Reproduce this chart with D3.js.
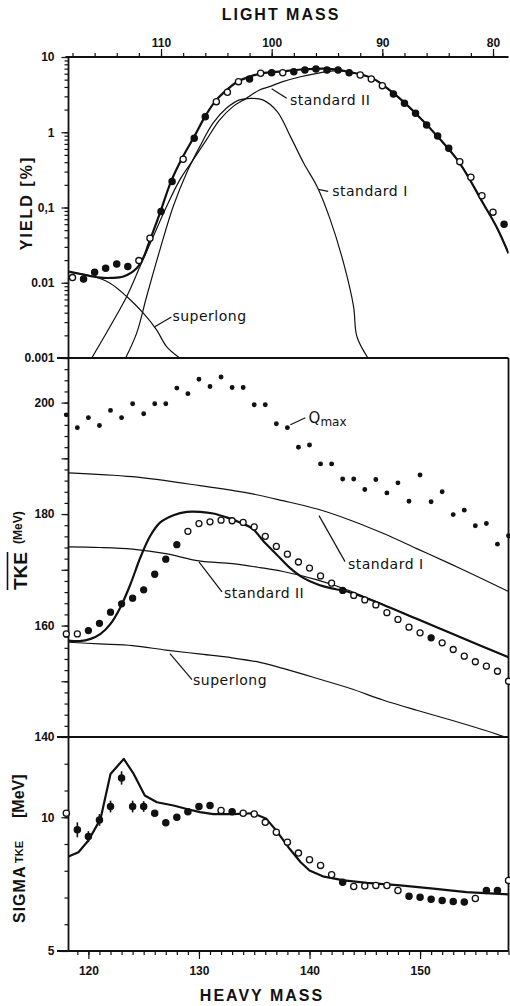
<!DOCTYPE html>
<html>
<head>
<meta charset="utf-8">
<script src="https://cdn.jsdelivr.net/npm/d3@7/dist/d3.min.js"></script>
<style>
  body { margin: 0; background: #fff; }
</style>
</head>
<body>
<script>
// values

// top panel: yield points, plotted against light fragment mass
var lightMass = [118, 117, 116, 115, 114, 113, 112, 111, 110, 109, 108, 107, 106, 105, 104, 103, 102, 101, 100, 99,
                 98, 97, 96, 95, 94, 93, 92, 91, 90, 89, 88, 87, 86, 85, 84, 83, 82, 81, 80, 79];
var yieldValues = [0.0117, 0.0112, 0.0138, 0.0156, 0.0177, 0.0164, 0.0197, 0.0391, 0.0883, 0.221, 0.438, 0.832, 1.61, 2.55, 3.40, 4.70, 5.11, 6.07, 6.19, 6.19,
                   6.38, 6.71, 6.93, 6.71, 6.71, 6.19, 5.77, 5.11, 4.16, 3.23, 2.43, 1.79, 1.25, 0.893, 0.612, 0.407, 0.252, 0.143, 0.0867, 0.060];
var yieldFilled = [0, 1, 1, 1, 1, 1, 0, 0, 1, 1, 0, 1, 1, 0, 0, 0, 1, 0, 1, 0,
                   1, 1, 1, 1, 1, 1, 0, 0, 0, 1, 1, 1, 1, 1, 1, 0, 0, 0, 0, 1];

// model curves [light mass, yield %]
var yieldTotal = [[118.3, 0.0141], [117, 0.0128], [115.5, 0.0117], [114.5, 0.0116], [113.4, 0.0121], [112.2, 0.0156], [111.6, 0.0215],
                  [111.1, 0.0336], [110.1, 0.084], [109.1, 0.221], [108.1, 0.452], [107, 0.875], [106, 1.64], [105, 2.69], [104, 3.72],
                  [103, 4.80], [102, 5.47], [100.9, 6.07], [99, 6.46], [97, 6.87], [95, 7.0], [93, 6.32], [90.9, 5.21], [89, 3.30],
                  [87, 1.79], [85, 0.875], [83, 0.387], [80.9, 0.114], [79.7, 0.0558], [78.6, 0.0247]];
var yieldStandardI = [[113.2, 0.001], [112.2, 0.00214], [111.3, 0.00656], [110.1, 0.0274], [108.9, 0.103], [107.7, 0.286], [106.5, 0.644],
                      [105.3, 1.32], [104.1, 2.08], [102.9, 2.69], [101.9, 2.82], [100.8, 2.69], [99.5, 1.88], [98.3, 0.875], [97.1, 0.387],
                      [95.9, 0.190], [94.7, 0.0684], [93.5, 0.0182], [92.6, 0.00483], [92.3, 0.00193], [91.3, 0.001]];
var yieldStandardII = [[116.26, 0.001], [114.6, 0.00262], [113.1, 0.00656], [111.9, 0.0164], [110.7, 0.0411], [109.5, 0.103], [108.3, 0.233],
                       [107.1, 0.429], [105.9, 0.791], [104.7, 1.46], [103.5, 2.19], [102.3, 2.82], [101.1, 3.65], [100.2, 4.04], [99, 4.70],
                       [97.4, 5.47], [95.9, 6.07], [94.4, 6.55], [93, 6.32], [90.9, 5.21], [89, 3.30], [87, 1.79], [85, 0.875], [83, 0.387],
                       [80.9, 0.114], [79.7, 0.0558], [78.6, 0.0247]];
var yieldSuperlong = [[118.3, 0.0137], [116.1, 0.0121], [114.6, 0.00986], [113.1, 0.00656], [111.6, 0.00394], [110.4, 0.00237],
                      [109.5, 0.00142], [108.3, 0.001]];

// middle and bottom panels: heavy fragment mass
var heavyMass = [118, 119, 120, 121, 122, 123, 124, 125, 126, 127, 128, 129, 130, 131, 132, 133, 134, 135, 136, 137, 138,
                 139, 140, 141, 142, 143, 144, 145, 146, 147, 148, 149, 150, 151, 152, 153, 154, 155, 156, 157, 158];
var tkeValues = [158.5, 158.5, 159.1, 160.4, 162.4, 163.9, 164.9, 166.4, 169.2, 171.9, 174.5, 176.9, 178.3, 178.6, 178.9, 178.8, 178.5, 177.7, 176.0, 174.2, 172.8,
                 171.4, 170.3, 168.9, 167.6, 166.3, 165.4, 164.6, 163.7, 162.3, 161.1, 159.7, 158.7, 157.8, 156.9, 155.7, 154.5, 153.5, 152.7, 151.8, 150.0];
var tkeFilled = [0, 0, 1, 1, 1, 1, 1, 1, 1, 1, 1, 0, 0, 0, 0, 0, 0, 0, 0, 0, 0,
                 0, 0, 0, 0, 1, 0, 0, 0, 0, 0, 0, 0, 1, 0, 0, 0, 0, 0, 0, 0];
var qmaxValues = [197.8, 195.5, 197.3, 195.9, 198.6, 197.3, 199.8, 198.0, 199.8, 199.8, 202.6, 201.6, 204.2, 202.9, 204.6, 202.7, 202.7, 199.6, 199.6, 196.2, 195.5,
                  192.0, 192.4, 189.0, 189.0, 186.3, 186.3, 184.4, 186.2, 183.8, 185.6, 182.3, 187.0, 182.2, 184.0, 179.9, 180.7, 177.9, 178.3, 174.6, 176.1];

// model curves [heavy mass, MeV]
var tkeTotal = [[118.2, 157.3], [119.2, 157.2], [120.2, 157.6], [121.1, 158.5], [122, 160.3], [122.9, 163.3], [123.8, 167.4], [124.7, 172.2],
                [125.6, 176.1], [126.5, 178.5], [127.7, 179.8], [128.9, 180.4], [130.1, 180.4], [131.3, 180.1], [132.5, 179.4], [133.7, 178.5],
                [134.9, 177.3], [135.8, 175.2], [137, 172.8], [138.2, 170.4], [139.4, 168.6], [140.7, 167.4], [141.9, 166.7], [143.4, 166.1],
                [146.7, 163.7], [149.7, 161.2], [152.7, 158.7], [155.7, 156.2], [158, 154.3]];
var tkeStandardI = [[118.2, 187.4], [124, 186.7], [130.1, 185.1], [134.6, 183.7], [137.6, 182.4], [140.7, 180.9], [143.7, 178.9],
                    [146.7, 176.5], [149.7, 173.8], [152.7, 171.1], [155.7, 168.3], [158, 166.1]];
var tkeStandardII = [[118.2, 174.1], [121, 174.0], [124, 173.7], [127, 172.9], [130, 171.6], [133, 171.1], [135.5, 170.4], [137.6, 169.7],
                     [140.7, 168.2], [143.7, 166.2], [146.7, 163.7], [149.7, 161.2], [152.7, 158.7], [155.7, 156.2], [158, 154.3]];
var tkeSuperlong = [[118.2, 157.0], [121, 156.7], [124, 156.4], [127, 155.6], [130, 154.9], [133, 154.2], [135.5, 153.4], [137.6, 152.3],
                    [140.7, 150.5], [143.7, 148.7], [146.7, 146.6], [149.7, 144.8], [152.7, 143.1], [155.7, 141.3], [158, 139.8]];

// bottom panel: sigma TKE
var sigmaValues = [10.15, 9.53, 9.28, 9.90, 10.40, 11.47, 10.40, 10.40, 10.15, 9.79, 10.00, 10.21, 10.40, 10.44, 10.25, 10.21, 10.15, 10.12, 9.81, 9.44, 9.07,
                   8.66, 8.41, 8.20, 7.85, 7.57, 7.41, 7.43, 7.45, 7.45, 7.26, 7.05, 7.01, 6.93, 6.89, 6.85, 6.83, 6.96, 7.26, 7.26, 7.64];
var sigmaFilled = [0, 1, 1, 1, 1, 1, 1, 1, 1, 1, 1, 1, 1, 1, 0, 1, 0, 0, 0, 0, 0,
                   0, 0, 0, 0, 1, 0, 0, 0, 0, 0, 1, 1, 1, 1, 1, 1, 0, 1, 1, 0];
var sigmaErr = [0, 0.28, 0.2, 0.22, 0.22, 0.25, 0.22, 0.2, 0, 0, 0, 0, 0, 0, 0, 0, 0, 0, 0, 0, 0,
                0, 0, 0, 0, 0, 0, 0, 0, 0, 0, 0, 0, 0, 0, 0, 0, 0, 0, 0, 0];
var sigmaCurve = [[118.2, 8.53], [119.1, 8.69], [120, 9.13], [121.1, 9.94], [122, 11.62], [123.2, 12.18], [124.1, 11.62], [125.1, 10.81],
                  [126.2, 10.56], [127.7, 10.44], [128.9, 10.31], [130.1, 10.19], [131.3, 10.12], [133.1, 10.12], [134.9, 10.15], [136.1, 9.94],
                  [137, 9.50], [138.2, 8.82], [139.2, 8.32], [140, 8.01], [141.2, 7.79], [143.1, 7.64], [145.2, 7.55], [148.2, 7.45],
                  [151.2, 7.33], [154.2, 7.20], [158, 7.12]];

// tick labels
var lightTicks = [110, 100, 90, 80];
var heavyTicks = [120, 130, 140, 150];
var yieldTicks = [10, 1, 0.1, 0.01, 0.001];
var yieldTickLabels = ['10', '1', '0,1', '0.01', '0.001'];
var tkeTicks = [140, 160, 180, 200];
var sigmaTicks = [5, 10];

// layout
var width = 510, height = 1006;
var left = 68.5, right = 508.5;
var topY = 57, midY = 358, lowY = 737, baseY = 951;
var ink = '#111';
var tickFont = '"Liberation Sans", Arial, sans-serif';
var noteFont = '"DejaVu Sans", sans-serif';

var svg = d3.select('body')
    .append('svg')
    .attr('width', width)
    .attr('height', height)
    .style('background', '#fff');

var xLight = d3.scaleLinear().domain([118.36, 78.6]).range([left, right]);
var xHeavy = d3.scaleLinear().domain([118.2, 158]).range([left, right]);
var yYield = d3.scaleLog().domain([0.001, 10]).range([midY, topY]);
var yTke = d3.scaleLinear().domain([140, 208]).range([lowY, midY]);
var ySigma = d3.scaleLinear().domain([5, 13]).range([baseY, lowY]);

//clip paths so the curves stop at the panel borders
function addClip(id, y0, y1) {
    svg.append('clipPath').attr('id', id)
        .append('rect')
        .attr('x', left).attr('y', y0)
        .attr('width', right - left).attr('height', y1 - y0);
}
addClip('clipTop', topY, midY);
addClip('clipMid', midY, lowY);
addClip('clipLow', lowY, baseY);

function axisStyle(g) {
    g.select('.domain').remove();
    g.selectAll('.tick line').attr('stroke', ink).attr('stroke-width', 1.2);
    g.selectAll('.tick text')
        .attr('fill', ink)
        .style('font-family', tickFont)
        .style('font-size', '12px')
        .style('font-weight', 'bold');
}

//light mass axis on top
svg.append('g').attr('transform', 'translate(0,' + topY + ')')
    .call(d3.axisTop(xLight).ticks(20).tickSize(4).tickFormat(''))
    .call(axisStyle);
svg.append('g').attr('transform', 'translate(0,' + topY + ')')
    .call(d3.axisTop(xLight).tickValues(lightTicks).tickSize(8).tickPadding(2))
    .call(axisStyle);

//yield axis (log)
svg.append('g').attr('transform', 'translate(' + left + ',0)')
    .call(d3.axisLeft(yYield).tickValues(yYield.ticks()).tickSize(4).tickFormat(''))
    .call(axisStyle);
svg.append('g').attr('transform', 'translate(' + left + ',0)')
    .call(d3.axisLeft(yYield).tickValues(yieldTicks).tickSize(7).tickPadding(7)
        .tickFormat(function (d, i) { return yieldTickLabels[i]; }))
    .call(axisStyle);

//TKE axis
svg.append('g').attr('transform', 'translate(' + left + ',0)')
    .call(d3.axisLeft(yTke).tickValues(d3.range(142, 208, 2)).tickSize(4).tickFormat(''))
    .call(axisStyle);
svg.append('g').attr('transform', 'translate(' + left + ',0)')
    .call(d3.axisLeft(yTke).tickValues(d3.range(140, 201, 10)).tickSize(7).tickPadding(7)
        .tickFormat(function (d) { return tkeTicks.indexOf(d) >= 0 ? d : ''; }))
    .call(axisStyle);

//sigma axis
svg.append('g').attr('transform', 'translate(' + left + ',0)')
    .call(d3.axisLeft(ySigma).tickValues(d3.range(6, 13, 1)).tickSize(4).tickFormat(''))
    .call(axisStyle);
svg.append('g').attr('transform', 'translate(' + left + ',0)')
    .call(d3.axisLeft(ySigma).tickValues(sigmaTicks).tickSize(7).tickPadding(7))
    .call(axisStyle);

//heavy mass axis at the bottom
svg.append('g').attr('transform', 'translate(0,' + baseY + ')')
    .call(d3.axisBottom(xHeavy).tickValues(d3.range(119, 159, 1)).tickSize(4).tickFormat(''))
    .call(axisStyle);
svg.append('g').attr('transform', 'translate(0,' + baseY + ')')
    .call(d3.axisBottom(xHeavy).tickValues(heavyTicks).tickSize(8).tickPadding(7))
    .call(axisStyle);

//frame: left axis, panel separators, right border
var frame = svg.append('g').attr('stroke', ink).attr('stroke-width', 1.8);
frame.append('line').attr('x1', left).attr('x2', left).attr('y1', topY).attr('y2', baseY);
frame.append('line').attr('x1', left - 3).attr('x2', right).attr('y1', topY).attr('y2', topY);
[midY, lowY, baseY].forEach(function (y) {
    frame.append('line').attr('x1', 57).attr('x2', right).attr('y1', y).attr('y2', y);
});
frame.append('line').attr('x1', right).attr('x2', right).attr('y1', midY).attr('y2', baseY);

//curves
var lineYield = d3.line()
    .x(function (d) { return xLight(d[0]); })
    .y(function (d) { return yYield(d[1]); })
    .curve(d3.curveCatmullRom.alpha(0.5));
var lineTke = d3.line()
    .x(function (d) { return xHeavy(d[0]); })
    .y(function (d) { return yTke(d[1]); })
    .curve(d3.curveCatmullRom.alpha(0.5));
var lineSigma = d3.line()
    .x(function (d) { return xHeavy(d[0]); })
    .y(function (d) { return ySigma(d[1]); })
    .curve(d3.curveLinear);

function drawCurve(clip, gen, data, w) {
    svg.append('path')
        .attr('clip-path', 'url(#' + clip + ')')
        .attr('d', gen(data))
        .style('fill', 'none')
        .style('stroke', ink)
        .style('stroke-width', w)
        .style('stroke-linejoin', 'round');
}
drawCurve('clipTop', lineYield, yieldStandardI, 1.2);
drawCurve('clipTop', lineYield, yieldStandardII, 1.2);
drawCurve('clipTop', lineYield, yieldSuperlong, 1.2);
drawCurve('clipTop', lineYield, yieldTotal, 2.2);
drawCurve('clipMid', lineTke, tkeStandardI, 1.2);
drawCurve('clipMid', lineTke, tkeStandardII, 1.2);
drawCurve('clipMid', lineTke, tkeSuperlong, 1.2);
drawCurve('clipMid', lineTke, tkeTotal, 2.2);
drawCurve('clipLow', lineSigma, sigmaCurve, 2.2);

//data points
function drawDots(xs, ys, filled, xScale, yScale, r) {
    svg.append('g').selectAll('circle')
        .data(xs)
        .enter().append('circle')
        .attr('cx', function (d) { return xScale(d); })
        .attr('cy', function (d, i) { return yScale(ys[i]); })
        .attr('r', r)
        .style('fill', function (d, i) { return filled[i] ? ink : '#fff'; })
        .style('stroke', ink)
        .style('stroke-width', 1.3);
}

//error bars for sigma
svg.append('g').selectAll('line')
    .data(heavyMass.filter(function (d, i) { return sigmaErr[i] > 0; }))
    .enter().append('line')
    .attr('x1', function (d) { return xHeavy(d); })
    .attr('x2', function (d) { return xHeavy(d); })
    .attr('y1', function (d) { var i = heavyMass.indexOf(d); return ySigma(sigmaValues[i] + sigmaErr[i]); })
    .attr('y2', function (d) { var i = heavyMass.indexOf(d); return ySigma(sigmaValues[i] - sigmaErr[i]); })
    .style('stroke', ink)
    .style('stroke-width', 1.6);

drawDots(lightMass, yieldValues, yieldFilled, xLight, yYield, 3.1);
drawDots(heavyMass, tkeValues, tkeFilled, xHeavy, yTke, 3.0);
drawDots(heavyMass, qmaxValues, heavyMass.map(function () { return 1; }), xHeavy, yTke, 1.8);
drawDots(heavyMass, sigmaValues, sigmaFilled, xHeavy, ySigma, 3.1);

//point on a curve, in pixels, for label leaders
function curvePoint(curve, xv, xScale, yScale) {
    for (var i = 1; i < curve.length; i++) {
        var a = curve[i - 1], b = curve[i];
        if ((xv - a[0]) * (xv - b[0]) <= 0) {
            var t = (xv - a[0]) / (b[0] - a[0]);
            var ya = yScale(a[1]), yb = yScale(b[1]);
            return [xScale(xv), ya + t * (yb - ya)];
        }
    }
    return [xScale(xv), yScale(curve[curve.length - 1][1])];
}

function annotate(p, leadFrom, leadTo, textAt, label) {
    svg.append('line')
        .attr('x1', p[0] + leadFrom[0]).attr('y1', p[1] + leadFrom[1])
        .attr('x2', p[0] + leadTo[0]).attr('y2', p[1] + leadTo[1])
        .style('stroke', ink).style('stroke-width', 1.2);
    svg.append('text')
        .attr('x', p[0] + textAt[0]).attr('y', p[1] + textAt[1])
        .style('font-family', noteFont)
        .style('font-size', '14px')
        .style('letter-spacing', '0.5px')
        .style('fill', ink)
        .text(label);
}

annotate(curvePoint(yieldStandardII, 100, xLight, yYield), [0, 3], [15, 12.5], [18.3, 19.2], 'standard II');
annotate(curvePoint(yieldStandardI, 95.8, xLight, yYield), [0, 0], [10, 2], [14, 7], 'standard I');
annotate(curvePoint(yieldSuperlong, 110.6, xLight, yYield), [0, 0], [17, -10], [18, -6], 'superlong');
annotate(curvePoint(tkeStandardI, 140.86, xHeavy, yTke), [0, 6], [26, 52], [29, 59], 'standard I');
annotate(curvePoint(tkeStandardII, 130, xHeavy, yTke), [0, 1], [23, 31], [25, 37], 'standard II');
annotate(curvePoint(tkeSuperlong, 127.38, xHeavy, yTke), [0, 3], [22, 29], [23, 34], 'superlong');

//Q max label next to the dotted series
var qi = heavyMass.indexOf(138);
var qx = xHeavy(138), qy = yTke(qmaxValues[qi]);
svg.append('line')
    .attr('x1', qx + 3).attr('y1', qy - 3)
    .attr('x2', qx + 18).attr('y2', qy - 10)
    .style('stroke', ink).style('stroke-width', 1.2);
svg.append('text')
    .attr('x', qx + 21).attr('y', qy - 5)
    .style('font-family', noteFont).style('font-size', '15px').style('fill', ink)
    .text('Q');
svg.append('text')
    .attr('x', qx + 33).attr('y', qy - 2)
    .style('font-family', noteFont).style('font-size', '12px').style('fill', ink)
    .text('max');

//axis titles
function title(x, y, txt, size, spacing) {
    return svg.append('text')
        .attr('x', x).attr('y', y)
        .attr('text-anchor', 'middle')
        .style('font-family', tickFont)
        .style('font-weight', 'bold')
        .style('font-size', size + 'px')
        .style('letter-spacing', spacing + 'px')
        .style('fill', ink)
        .text(txt);
}
title(281, 19.5, 'LIGHT MASS', 16, 2);
title(262, 1001, 'HEAVY MASS', 16, 2);
title(0, 0, 'YIELD [%]', 16, 2).attr('transform', 'translate(32,203) rotate(-90)');

//TKE with overline
var tkeLabel = svg.append('g').attr('transform', 'translate(27,590) rotate(-90)');
var tkeText = tkeLabel.append('text')
    .attr('x', 0).attr('y', 0)
    .style('font-family', tickFont).style('font-weight', 'bold').style('font-size', '19px')
    .style('fill', ink)
    .text('TKE');
var tkeLen = tkeText.node().getComputedTextLength();
tkeLabel.append('line')
    .attr('x1', 0).attr('x2', tkeLen)
    .attr('y1', -19.5).attr('y2', -19.5)
    .style('stroke', ink).style('stroke-width', 1.6);
tkeLabel.append('text')
    .attr('x', tkeLen + 8).attr('y', -5)
    .style('font-family', tickFont).style('font-weight', 'bold').style('font-size', '12px')
    .style('fill', ink)
    .text('(MeV)');

//SIGMA TKE [MeV]
var sigLabel = svg.append('g').attr('transform', 'translate(25,923) rotate(-90)');
sigLabel.append('text')
    .attr('x', 0).attr('y', 0)
    .style('font-family', tickFont).style('font-weight', 'bold').style('font-size', '16px')
    .style('letter-spacing', '1px').style('fill', ink)
    .text('SIGMA');
sigLabel.append('text')
    .attr('x', 60).attr('y', -2)
    .style('font-family', tickFont).style('font-weight', 'bold').style('font-size', '11px')
    .style('fill', ink)
    .text('TKE');
sigLabel.append('text')
    .attr('x', 105).attr('y', -1)
    .style('font-family', tickFont).style('font-weight', 'bold').style('font-size', '16px')
    .style('fill', ink)
    .text('[MeV]');
</script>
</body>
</html>
